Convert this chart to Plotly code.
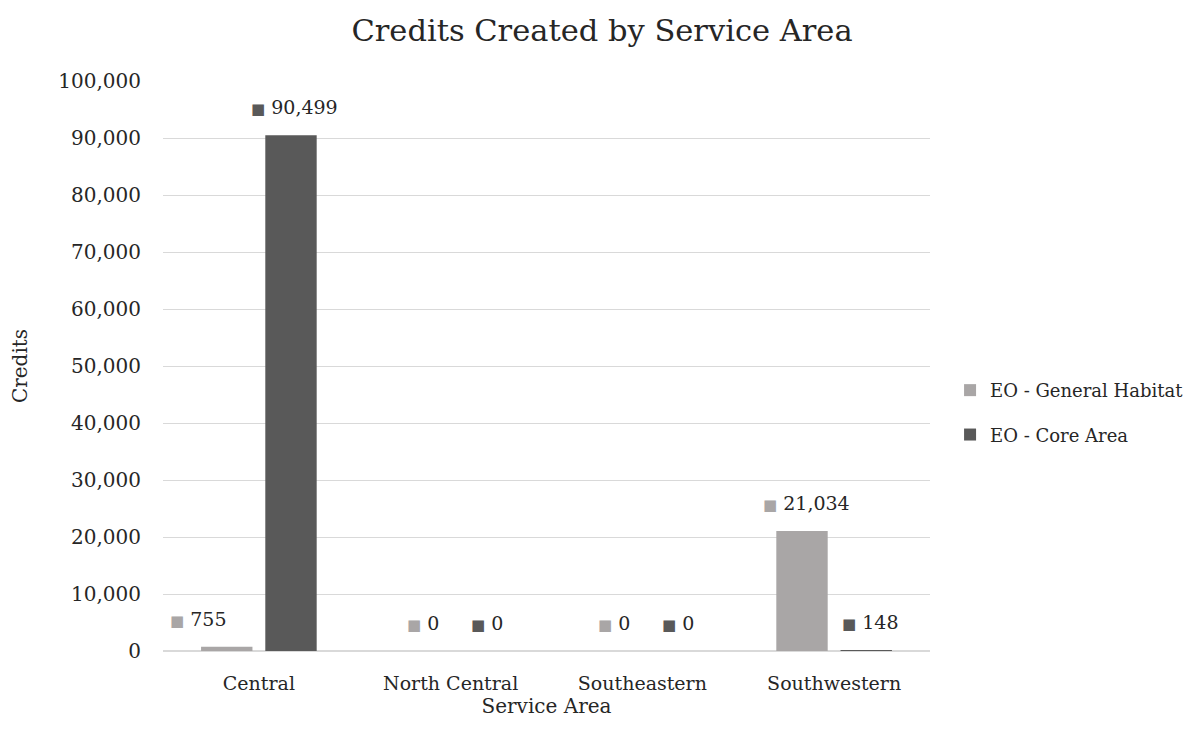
import plotly.graph_objects as go

categories = ["Central", "North Central", "Southeastern", "Southwestern"]
general_habitat = [755, 0, 0, 21034]
core_area = [90499, 0, 0, 148]
series_names = ["EO - General Habitat", "EO - Core Area"]
y_ticks = list(range(0, 100001, 10000))

colors = ["#A9A6A6", "#595959"]
SERIF = "DejaVu Serif, Liberation Serif, serif"
TXT = "#262626"

fig = go.Figure()
for name, vals, col in zip(series_names, [general_habitat, core_area], colors):
    fig.add_trace(go.Bar(x=categories, y=vals, name=name, marker_color=col,
                         marker_line_width=0, legendgroup=name))

# data labels (with legend key) above each bar
shifts = [-32, 32]
extra = {(0, 0): -32}
for si, (vals, col) in enumerate(zip([general_habitat, core_area], colors)):
    for ci, (cat, v) in enumerate(zip(categories, vals)):
        fig.add_annotation(
            x=cat, y=v, xref="x", yref="y",
            text=f'<span style="color:{col};font-size:15px">■</span> {v:,}',
            showarrow=False, xanchor="center", yanchor="middle",
            xshift=shifts[si] + 4 + extra.get((si, ci), 0), yshift=28,
            font=dict(family=SERIF, size=19, color=TXT))

fig.update_layout(
    width=1194, height=734,
    paper_bgcolor="white", plot_bgcolor="white",
    margin=dict(l=155, r=272, t=73, b=91, autoexpand=False),
    title=dict(text="Credits Created by Service Area", x=0.4975, xanchor="center",
               xref="container", y=0.97, yanchor="middle",
               font=dict(family=SERIF, size=30.5, color=TXT)),
    bargap=0.33, bargroupgap=0.2,
    barmode="group",
    legend=dict(x=0.789, y=0.449, xref="container", yref="container",
                xanchor="left", yanchor="middle",
                font=dict(family=SERIF, size=18, color=TXT),
                tracegroupgap=18, itemsizing="constant"),
    xaxis=dict(title=dict(text="Service Area", font=dict(family=SERIF, size=20, color=TXT),
                          standoff=5),
               automargin=False,
               tickfont=dict(family=SERIF, size=19, color=TXT),
               showline=True, linecolor="#D9D9D9", linewidth=1,
               ticks="outside", ticklen=15, tickcolor="rgba(0,0,0,0)",
               showgrid=False),
    yaxis=dict(title=dict(text="Credits", font=dict(family=SERIF, size=20, color=TXT),
                          standoff=26),
               automargin=False,
               range=[0, 100000], tickvals=y_ticks, tickformat=",",
               tickfont=dict(family=SERIF, size=20, color=TXT),
               showgrid=True, gridcolor="#D9D9D9", gridwidth=1,
               zeroline=True, zerolinecolor="#D9D9D9", ticks="outside",
               ticklen=17, tickcolor="rgba(0,0,0,0)"),
)

fig.write_html("out.html")
